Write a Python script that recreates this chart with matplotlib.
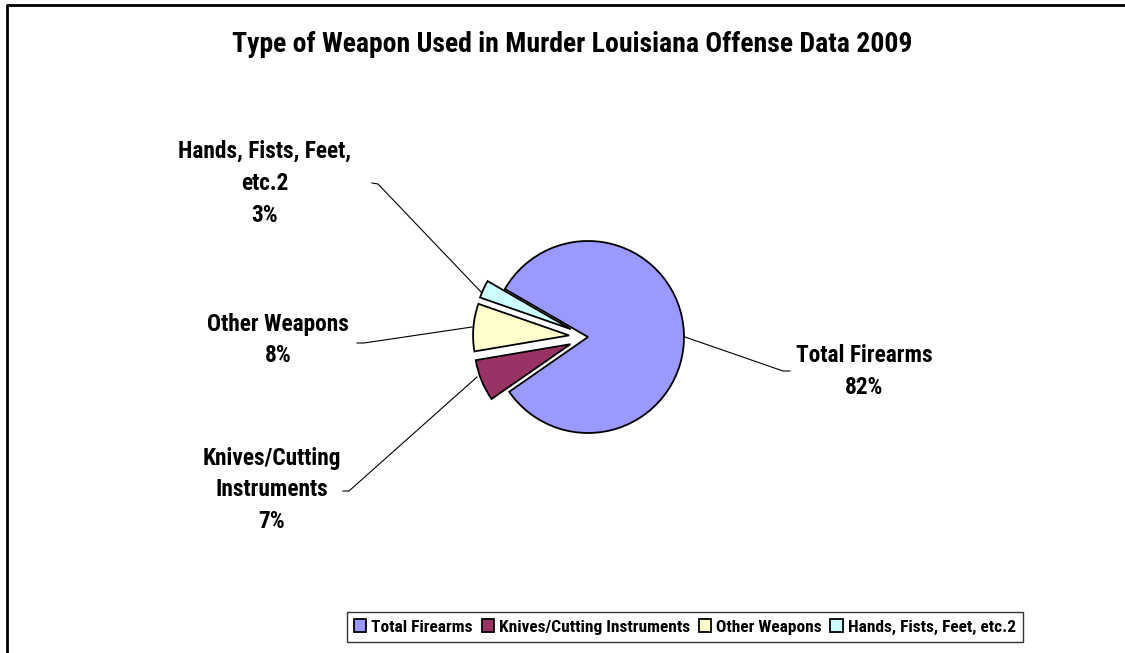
import matplotlib
matplotlib.use("Agg")
import matplotlib.pyplot as plt
from matplotlib.lines import Line2D

plt.rcParams['font.family'] = ['Roboto Condensed', 'Fira Sans Condensed', 'DejaVu Sans']

# Murder weapon shares, Louisiana 2009 (percent)
categories = ["Total Firearms", "Knives/Cutting Instruments", "Other Weapons", "Hands, Fists, Feet, etc.2"]
label_text = ["Total Firearms", "Knives/Cutting\nInstruments", "Other Weapons", "Hands, Fists, Feet,\netc.2"]
shares = [82, 7, 8, 3]
colors = ["#9999FF", "#993366", "#FFFFCC", "#CCFFFF"]

W, H = 1125, 653
fig = plt.figure(figsize=(W / 100, H / 100), dpi=100)
ax = fig.add_axes([0, 0, 1, 1])

def py(y):
    # pixel row (from top) to axis y (from bottom)
    return H - y

radius = 96
center = (588, py(337))
wedges, _ = ax.pie(shares, colors=colors, startangle=150, counterclock=False,
                   radius=radius, center=center, explode=[0, 19, 19, 19],
                   wedgeprops=dict(edgecolor="black", linewidth=1.3))
ax.set_xlim(0, W)
ax.set_ylim(0, H)
ax.axis("off")

# Data labels with leader lines
label_pos = [(864, 371), (272, 490), (278, 340), (265, 183)]
leaders = [
    [(685, 337), (783, 371), (790, 371)],
    [(477, 377), (349, 491), (343, 491)],
    [(472, 327), (364, 343), (357, 343)],
    [(482, 293), (378, 184), (372, 183)],
]
for txt, val, (lx, ly), pts in zip(label_text, shares, label_pos, leaders):
    ax.text(lx, py(ly), f"{txt}\n{val}%", ha="center", va="center",
            fontsize=16.8, fontweight="semibold", linespacing=1.5)
    ax.add_line(Line2D([p[0] for p in pts], [py(p[1]) for p in pts],
                       color="black", linewidth=0.8))

ax.text(572, py(45), "Type of Weapon Used in Murder Louisiana Offense Data 2009",
        ha="center", va="center", fontsize=20, fontweight="semibold")

# Chart area border (left and top edges visible)
ax.add_line(Line2D([7, 7, W], [0, py(5), py(5)], color="black", linewidth=2))

leg = fig.legend(wedges, categories, ncol=4, loc="center",
                 bbox_to_anchor=(685 / W, 1 - 627 / H),
                 prop=dict(size=12.5, weight="semibold"), frameon=True, fancybox=False,
                 edgecolor="black", handlelength=0.7, handleheight=0.7,
                 handletextpad=0.3, columnspacing=0.5, borderpad=0.42)
leg.get_frame().set_linewidth(1.0)

fig.savefig("out.png", dpi=100)
